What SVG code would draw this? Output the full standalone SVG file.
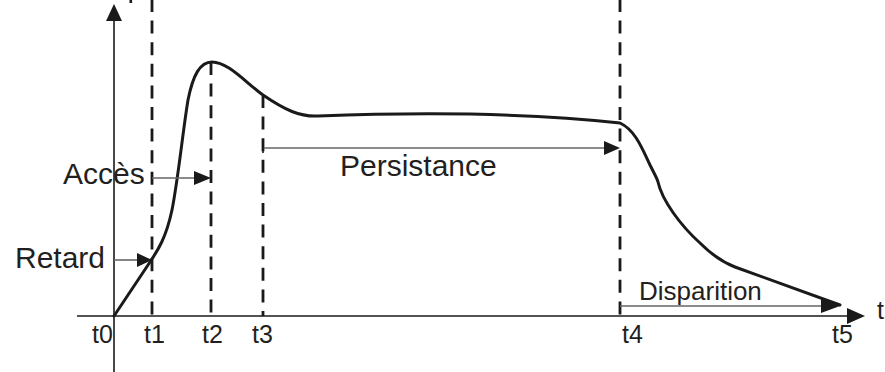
<svg xmlns="http://www.w3.org/2000/svg" width="885" height="372" viewBox="0 0 885 372">
<style>
.axis{stroke:#1a1a1a;stroke-width:1.6;fill:none}
.dash{stroke:#1a1a1a;stroke-width:2.8;stroke-dasharray:13 8.6;stroke-dashoffset:1;fill:none}
.arr{stroke:#666;stroke-width:1.6;fill:none}
.head{fill:#1a1a1a}
.curve{stroke:#1a1a1a;stroke-width:3;fill:none;stroke-linejoin:round;stroke-linecap:round}
.lbl{font-family:"Liberation Sans",Arial,sans-serif;fill:#231f20}
</style>
<rect width="885" height="372" fill="#fff"/>
<g id="axes">
<line class="axis" x1="114" y1="372" x2="114" y2="18"/>
<polygon class="head" points="114,4 106,21 122,21"/>
<line class="axis" x1="77" y1="316" x2="850" y2="316"/>
<polygon class="head" points="865,316 847,308 847,324"/>
<rect x="129.5" y="0" width="2.6" height="3" fill="#1a1a1a"/>
</g>
<g id="guides">
<line class="dash" x1="152" y1="0" x2="152" y2="316"/>
<line class="dash" x1="211" y1="63" x2="211" y2="316"/>
<line class="dash" x1="263" y1="96" x2="263" y2="316"/>
<line class="dash" x1="620" y1="0" x2="620" y2="316"/>
</g>
<g id="curve">
<path class="curve" d="M114,316 L150,262 C158,250 166,238 172,210 C178,180 183,130 188,100 C193,75 200,62 212,62 C228,62 245,82 263,95 C285,110 300,117 318,116 C400,113 520,112 620,123 C635,130 642,148 650,165 C655,175 657,178 658,182 C662,200 680,225 700,243 C712,255 722,262 735,267 L840,305"/>
</g>
<g id="connectors">
<line class="arr" x1="114" y1="260" x2="138" y2="260"/>
<polygon class="head" points="152,260 137,253 137,267"/>
<line class="arr" x1="152" y1="178" x2="196" y2="178"/>
<polygon class="head" points="211,178 194,171 194,185"/>
<line class="arr" x1="263" y1="148" x2="606" y2="148"/>
<line class="axis" x1="263" y1="143" x2="263" y2="153"/>
<polygon class="head" points="620,148 604,141 604,155"/>
<line class="arr" x1="620" y1="306" x2="823" y2="306"/>
<polygon class="head" points="840,306 821,298 821,313"/>
</g>
<g id="labels">
<text class="lbl" x="15" y="268" font-size="30">Retard</text>
<text class="lbl" x="63" y="184" font-size="30">Accès</text>
<text class="lbl" x="340" y="176" font-size="30">Persistance</text>
<text class="lbl" x="639" y="300" font-size="26">Disparition</text>
<text class="lbl" x="92" y="343" font-size="25">t0</text>
<text class="lbl" x="144" y="343" font-size="25">t1</text>
<text class="lbl" x="202" y="343" font-size="25">t2</text>
<text class="lbl" x="252" y="343" font-size="25">t3</text>
<text class="lbl" x="622" y="343" font-size="25">t4</text>
<text class="lbl" x="832" y="343" font-size="25">t5</text>
<text class="lbl" x="877" y="319" font-size="25">t</text>
</g>
</svg>
